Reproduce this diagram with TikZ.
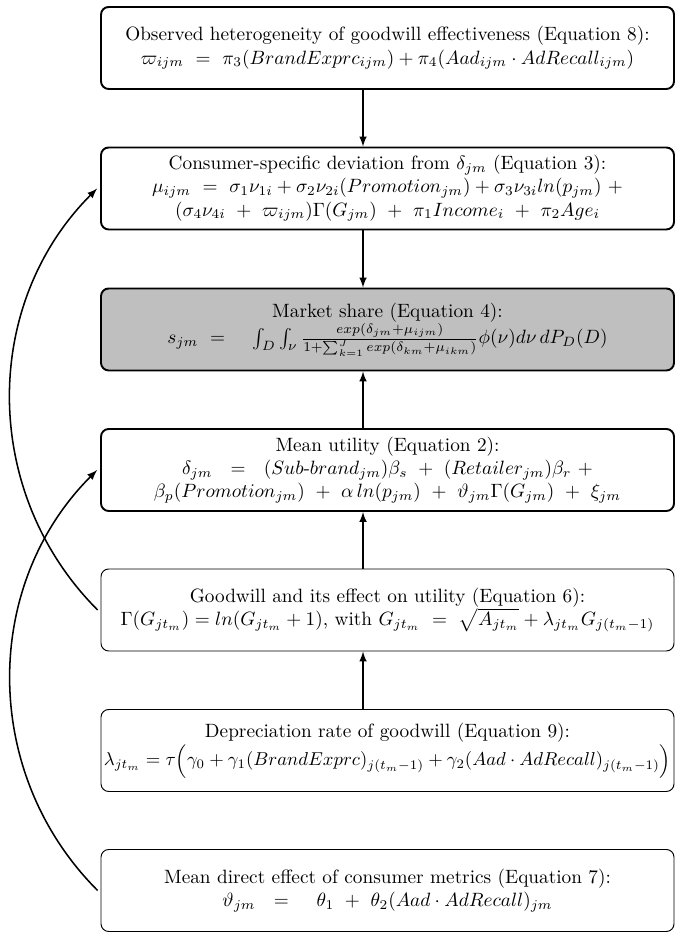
\documentclass[tikz,border=0pt]{standalone}
\usepackage{amsmath}
\usepackage{amssymb}
\usepackage{graphicx}
\usepackage{tikz}
\usepackage{xcolor}

\begin{document}
\begin{tikzpicture}[x=0.01825cm,y=0.01825cm,>=latex,
    eqbox/.style={draw,rounded corners=4pt,minimum width=573*0.01825cm,minimum height=82*0.01825cm,align=center,inner xsep=0pt,inner ysep=1pt},
    mainbox/.style={eqbox,line width=1pt},
    sidebox/.style={eqbox,line width=0.5pt},
    link/.style={->,line width=0.8pt}]
    \useasboundingbox (0,0) rectangle (675,932);
    \node[mainbox] (eqeight) at (387.5,884) {Observed heterogeneity of goodwill effectiveness (Equation 8):\\
        $\varpi_{ijm}\ =\ \pi_3(BrandExprc_{ijm}) + \pi_4(Aad_{ijm}\cdot AdRecall_{ijm})$};
    \node[mainbox] (eqthree) at (387.5,743.5) {Consumer-specific deviation from $\delta_{jm}$ (Equation 3):\\
        $\mu_{ijm}\ =\ \sigma_1\nu_{1i} + \sigma_2\nu_{2i}(Promotion_{jm}) + \sigma_3\nu_{3i}ln(p_{jm})\ +$\\
        $(\sigma_4\nu_{4i}\ +\ \varpi_{ijm})\Gamma(G_{jm})\ +\ \pi_1 Income_i\ +\ \pi_2 Age_i$};
    \node[mainbox,fill=lightgray] (eqfour) at (387.5,602.5) {Market share (Equation 4):\\
        $s_{jm}\ =\quad\,\int_D\int_\nu \frac{exp(\delta_{jm}+\mu_{ijm})}{1+\sum_{k=1}^{J}exp(\delta_{km}+\mu_{ikm})}\phi(\nu)d\nu\,dP_D(D)$};
    \node[mainbox] (eqtwo) at (387.5,462) {Mean utility (Equation 2):\\
        $\delta_{jm}\ \ =\ \ (Sub\text{-}brand_{jm})\beta_s\ +\ (Retailer_{jm})\beta_r\ +$\\
        $\beta_p(Promotion_{jm})\ +\ \alpha\,ln(p_{jm})\ +\ \vartheta_{jm}\Gamma(G_{jm})\ +\ \xi_{jm}$};
    \node[sidebox] (eqsix) at (387.5,322) {Goodwill and its effect on utility (Equation 6):\\
        $\Gamma(G_{jt_m}) = ln(G_{jt_m}+1)$, with $G_{jt_m}\ =\ \sqrt{A_{jt_m}} + \lambda_{jt_m}G_{j(t_m-1)}$};
    \node[sidebox] (eqnine) at (387.5,181.5) {Depreciation rate of goodwill (Equation 9):\\
        \makebox[10.4cm]{\scalebox{0.97}{$\lambda_{jt_m} = \tau\Big(\gamma_0 + \gamma_1(BrandExprc)_{j(t_m-1)} + \gamma_2(Aad\cdot AdRecall)_{j(t_m-1)}\Big)$}}};
    \node[sidebox] (eqseven) at (387.5,41.5) {Mean direct effect of consumer metrics (Equation 7):\\
        $\vartheta_{jm}\ \ =\quad\,\theta_1\ +\ \theta_2(Aad\cdot AdRecall)_{jm}$};
    % arrows between the boxes
    \coordinate (ax) at (363,0);
    \draw[link] (eqeight.south -| ax) -- (eqthree.north -| ax);
    \draw[link] (eqthree.south -| ax) -- (eqfour.north -| ax);
    \draw[link] (eqtwo.north -| ax) -- (eqfour.south -| ax);
    \draw[link] (eqsix.north -| ax) -- (eqtwo.south -| ax);
    \draw[link] (eqnine.north -| ax) -- (eqsix.south -| ax);
    \draw[link] ([xshift=-1.5pt]eqsix.west) to[out=135,in=225] ([xshift=-1.5pt]eqthree.west);
    \draw[link] ([xshift=-1.5pt]eqseven.west) to[out=135,in=225] ([xshift=-1.5pt]eqtwo.west);
\end{tikzpicture}
\end{document}
